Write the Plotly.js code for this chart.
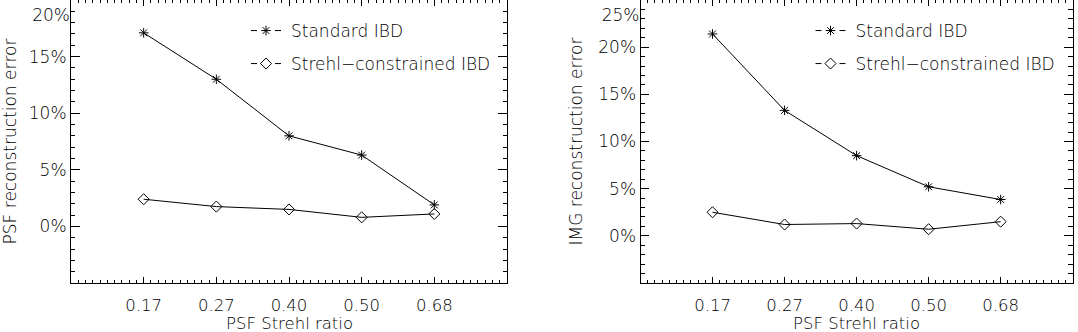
<!DOCTYPE html>
<html>
<head>
<meta charset="utf-8">
<script src="https://cdn.plot.ly/plotly-3.0.1.min.js"></script>
<style>html,body{margin:0;padding:0;background:#fff;}#chart{width:1078px;height:332px;}</style>
</head>
<body>
<div id="chart"></div>
<script>
// ---- data ----
var strehlLabels = ['0.17', '0.27', '0.40', '0.50', '0.68'];
var psfStandard = [17.1, 13.0, 8.0, 6.3, 1.9];
var psfConstrained = [2.4, 1.75, 1.5, 0.8, 1.1];
var imgStandard = [21.4, 13.3, 8.5, 5.2, 3.85];
var imgConstrained = [2.5, 1.2, 1.3, 0.7, 1.5];
var psfTickVals = [0, 5, 10, 15, 20];
var psfTickText = ['0%', '5%', '10%', '15%', '20%'];
var imgTickVals = [0, 5, 10, 15, 20, 25];
var imgTickText = ['0%', '5%', '10%', '15%', '20%', '25%'];
var seriesNames = ['Standard IBD', 'Strehl\u2212constrained IBD'];
var xTitle = 'PSF Strehl ratio';

var idx = strehlLabels.map(function (d, i) { return i; });
var FONT = {family: 'DejaVu Sans, Liberation Sans, sans-serif', size: 17, color: '#000', weight: 200};
var XFONT = {family: 'DejaVu Sans, Liberation Sans, sans-serif', size: 16.5, color: '#000', weight: 200};
var INK = '#000';

function dataTrace(y, xa, ya, sym, size) {
  return {
    x: idx, y: y, xaxis: xa, yaxis: ya, type: 'scatter', mode: 'lines+markers',
    line: {color: INK, width: 1},
    marker: {symbol: sym, size: size, color: INK, line: {color: INK, width: 1}},
    showlegend: false, hoverinfo: 'skip'
  };
}
function legendTrace(name, sym, size, xa, ya, lg) {
  return {
    x: [null], y: [null], xaxis: xa, yaxis: ya, type: 'scatter', mode: 'lines+markers', name: name,
    line: {color: INK, width: 1, dash: '0px,5px,6px,18px,6px,100px'},
    marker: {symbol: sym, size: size, color: INK, line: {color: INK, width: 1}},
    showlegend: true, legend: lg
  };
}

var traces = [
  dataTrace(psfStandard, 'x', 'y', 'asterisk-open', 8),
  dataTrace(psfConstrained, 'x', 'y', 'diamond-open', 8.5),
  dataTrace(imgStandard, 'x2', 'y2', 'asterisk-open', 8),
  dataTrace(imgConstrained, 'x2', 'y2', 'diamond-open', 8.5),
  legendTrace(seriesNames[0], 'asterisk-open', 8, 'x', 'y3', 'legend'),
  legendTrace(seriesNames[1], 'diamond-open', 8.5, 'x', 'y3', 'legend2'),
  legendTrace(seriesNames[0], 'asterisk-open', 8, 'x2', 'y4', 'legend3'),
  legendTrace(seriesNames[1], 'diamond-open', 8.5, 'x2', 'y4', 'legend4')
];

function xAxis(dom, anchor) {
  return {
    domain: dom, anchor: anchor, range: [-1, 5],
    tickmode: 'array', tickvals: idx, ticktext: strehlLabels,
    ticks: 'inside', ticklen: 5.7, tickwidth: 1, tickcolor: INK, ticklabelstandoff: 7,
    minor: {tickmode: 'linear', tick0: 0, dtick: 0.1, ticks: 'inside', ticklen: 2.8, tickwidth: 1, tickcolor: INK, showgrid: false},
    showline: true, linecolor: INK, linewidth: 1, mirror: 'ticks',
    showgrid: false, zeroline: false, tickfont: XFONT
  };
}
function yAxis(dom, anchor, rng, vals, text, title) {
  return {
    domain: dom, anchor: anchor, range: rng,
    tickmode: 'array', tickvals: vals.slice(0, -1), ticktext: text.slice(0, -1),
    ticks: 'inside', ticklen: 8.7, tickwidth: 1, tickcolor: INK,
    minor: {tickmode: 'linear', tick0: 0, dtick: 1, ticks: 'inside', ticklen: 4.4, tickwidth: 1, tickcolor: INK, showgrid: false},
    showline: true, linecolor: INK, linewidth: 1, mirror: 'ticks',
    showgrid: false, zeroline: false, tickfont: FONT,
    title: {text: title, font: FONT, standoff: 11}
  };
}
function yTopAxis(over, anchor, rng, vals, text) {
  return {
    overlaying: over, anchor: anchor, side: 'left', range: rng,
    tickmode: 'array', tickvals: vals.slice(-1), ticktext: text.slice(-1),
    ticklabelposition: 'outside bottom', ticklabelshift: 3, ticks: '', showline: false,
    showgrid: false, zeroline: false, tickfont: FONT
  };
}
function xTitleAnn(xref) {
  return {
    text: xTitle, xref: xref, yref: 'paper', x: 0.5, y: 0,
    xanchor: 'center', yanchor: 'bottom', yshift: -2, borderpad: 0, showarrow: false, font: XFONT
  };
}

var yDom = [(332 - 283) / 332, 1];
var legendBase = {bgcolor: 'rgba(0,0,0,0)', borderwidth: 0, font: FONT, xanchor: 'left', yanchor: 'middle', itemwidth: 40, itemclick: false, itemdoubleclick: false};
function lg(x, y) { return Object.assign({}, legendBase, {x: x, y: y}); }

var layout = {
  width: 1078, height: 332,
  margin: {l: 0, r: 0, t: 0, b: 0},
  paper_bgcolor: '#fff', plot_bgcolor: '#fff',
  font: FONT,
  xaxis: xAxis([71 / 1078, 507 / 1078], 'y'),
  yaxis: yAxis(yDom, 'x', [-5, 20], psfTickVals, psfTickText, 'PSF reconstruction error'),
  xaxis2: xAxis([640.5 / 1078, 1072.7 / 1078], 'y2'),
  yaxis2: yAxis(yDom, 'x2', [-5, 25], imgTickVals, imgTickText, 'IMG reconstruction error'),
  yaxis3: yTopAxis('y', 'x', [-5, 20], psfTickVals, psfTickText),
  yaxis4: yTopAxis('y2', 'x2', [-5, 25], imgTickVals, imgTickText),
  legend: lg(241 / 1078, 1 - 31 / 332),
  legend2: lg(241 / 1078, 1 - 64 / 332),
  legend3: lg(805.5 / 1078, 1 - 31 / 332),
  legend4: lg(805.5 / 1078, 1 - 64 / 332),
  annotations: [xTitleAnn('x domain'), xTitleAnn('x2 domain')],
  showlegend: true
};

Plotly.newPlot('chart', traces, layout, {staticPlot: true, displayModeBar: false});
</script>
</body>
</html>
